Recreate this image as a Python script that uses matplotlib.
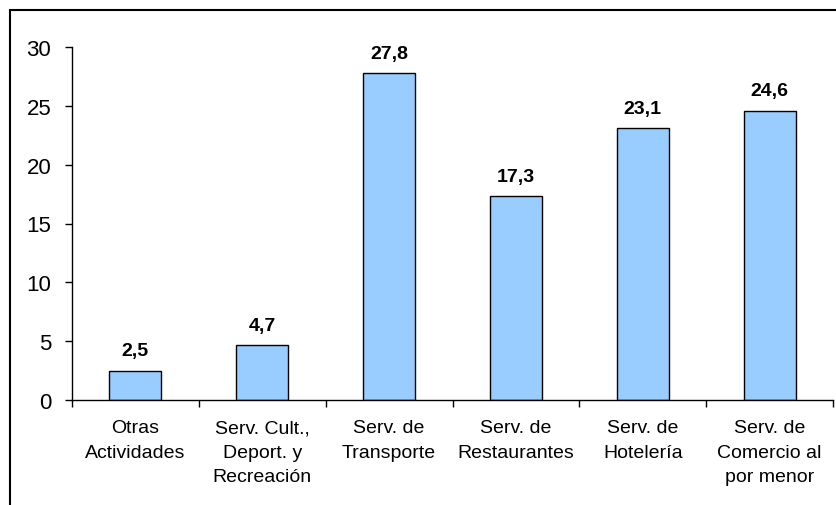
import matplotlib
matplotlib.use("Agg")
import matplotlib.pyplot as plt
from matplotlib.patches import Rectangle
import numpy as np

categories = ["Otras\nActividades", "Serv. Cult.,\nDeport. y\nRecreación",
              "Serv. de\nTransporte", "Serv. de\nRestaurantes",
              "Serv. de\nHotelería", "Serv. de\nComercio al\npor menor"]
values = [2.5, 4.7, 27.8, 17.3, 23.1, 24.6]
value_labels = ["2,5", "4,7", "27,8", "17,3", "23,1", "24,6"]
yticks = [0, 5, 10, 15, 20, 25, 30]

plt.rcParams['font.family'] = ['Liberation Sans', 'DejaVu Sans']

fig = plt.figure(figsize=(8.36, 5.06), dpi=100)
ax = fig.add_axes([72/836, 1-401/506, (833-72)/836, (401-48)/506])

x = np.arange(len(categories))
ax.bar(x, values, width=0.41, color='#99CCFF', edgecolor='black', linewidth=1.0, zorder=2)
for xi, v, lab in zip(x, values, value_labels):
    ax.annotate(lab, (xi, v), xytext=(0, 8), textcoords='offset points',
                ha='center', va='bottom', fontsize=14, fontweight='bold')

ax.set_xlim(-0.5, len(categories)-0.5)
ax.set_ylim(0, 30)
ax.set_yticks(yticks)
ax.set_yticklabels([str(t) for t in yticks], fontsize=16)
ax.tick_params(axis='y', direction='out', length=5, width=1, pad=10)

ax.set_xticks(np.arange(len(categories)+1) - 0.5)
ax.set_xticklabels([])
ax.tick_params(axis='x', which='major', direction='out', length=5, width=1)
ax.set_xticks(x, minor=True)
ax.set_xticklabels(categories, minor=True, fontsize=14, linespacing=1.55, va='top')
ax.tick_params(axis='x', which='minor', length=0, pad=14)

for s in ['top', 'right']:
    ax.spines[s].set_visible(False)
for s in ['left', 'bottom']:
    ax.spines[s].set_linewidth(1.0)

# outer frame (top and left visible only, extends past the image)
fig.patches.append(Rectangle((10/836, -0.1), 1.2, 1 - 11/506 + 0.1, transform=fig.transFigure,
                             fill=False, edgecolor='black', linewidth=1.5))

fig.savefig("out.png", dpi=100)
